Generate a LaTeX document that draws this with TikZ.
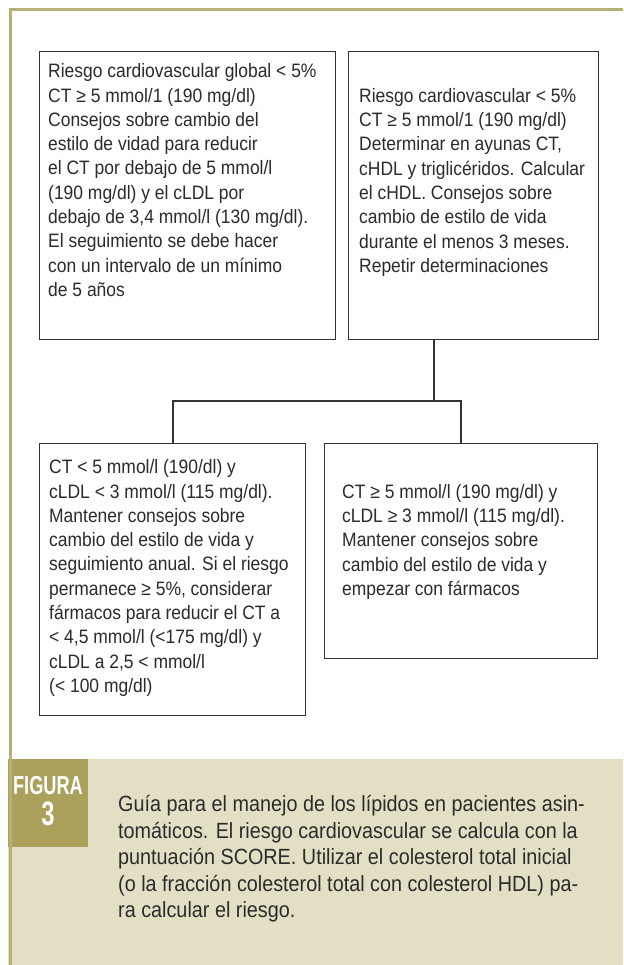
\documentclass[tikz,border=0pt]{standalone}
\usepackage{fontspec}
\setmainfont[FakeStretch=0.9]{Liberation Sans}
\newfontfamily\figfont[FakeStretch=0.7]{Liberation Sans}
\definecolor{framecol}{HTML}{B8AF76}
\definecolor{bandcol}{HTML}{E3DFC5}
\definecolor{figcol}{HTML}{ABA15D}
\definecolor{inkcol}{HTML}{2B2B2B}
\definecolor{linecol}{HTML}{333333}
\tikzset{
  boxshape/.style={draw=linecol, line width=1.3pt, rectangle, inner sep=0pt},
  boxtext/.style={anchor=north west, inner sep=0pt, align=left, text=inkcol,
    font=\fontsize{19.4}{24.3}\selectfont},
  conn/.style={draw=linecol, line width=1.3pt},
  captext/.style={anchor=north west, inner sep=0pt, align=left, text=inkcol,
    font=\fontsize{22}{26.6}\selectfont},
  figtext/.style={anchor=north, inner sep=0pt, text=white}
}
\begin{document}
\begin{tikzpicture}[x=1pt,y=-1pt]
\useasboundingbox (0,0) rectangle (623,965);
\fill[white] (0,0) rectangle (623,965);
% caption band
\fill[bandcol] (8,759) rectangle (623,965);
\fill[figcol] (8,759) rectangle (88,847);
% frame
\draw[framecol, line width=3pt] (10,965) -- (10,10) -- (623,10);
% boxes
\node[boxshape, minimum width=296pt, minimum height=288pt, anchor=north west] (b1) at (39,51) {};
\node[boxshape, minimum width=250pt, minimum height=288pt, anchor=north west] (b2) at (348,51) {};
\node[boxshape, minimum width=266pt, minimum height=272pt, anchor=north west] (b3) at (39,443) {};
\node[boxshape, minimum width=273pt, minimum height=215pt, anchor=north west] (b4) at (324,443) {};
% texts
\node[boxtext] (t1) at (48,63.5) {Riesgo cardiovascular global < 5\%\\
CT ≥ 5 mmol/1 (190 mg/dl)\\
Consejos sobre cambio del\\
estilo de vidad para reducir\\
el CT por debajo de 5 mmol/l\\
(190 mg/dl) y el cLDL por\\
debajo de 3,4 mmol/l (130 mg/dl).\\
El seguimiento se debe hacer\\
con un intervalo de un mínimo\\
de 5 años};
\node[boxtext] (t2) at (359,88) {Riesgo cardiovascular < 5\%\\
CT ≥ 5 mmol/1 (190 mg/dl)\\
Determinar en ayunas CT,\\
cHDL y triglicéridos. Calcular\\
el cHDL. Consejos sobre\\
cambio de estilo de vida\\
durante el menos 3 meses.\\
Repetir determinaciones};
\node[boxtext] (t3) at (49,459.5) {CT < 5 mmol/l (190/dl) y\\
cLDL < 3 mmol/l (115 mg/dl).\\
Mantener consejos sobre\\
cambio del estilo de vida y\\
seguimiento anual. Si el riesgo\\
permanece ≥ 5\%, considerar\\
fármacos para reducir el CT a\\
< 4,5 mmol/l (<175 mg/dl) y\\
cLDL a 2,5 < mmol/l\\
(< 100 mg/dl)};
\node[boxtext] (t4) at (342,484) {CT ≥ 5 mmol/l (190 mg/dl) y\\
cLDL ≥ 3 mmol/l (115 mg/dl).\\
Mantener consejos sobre\\
cambio del estilo de vida y\\
empezar con fármacos};
% connectors
\coordinate (j) at (434,401);
\coordinate (jl) at (173,401);
\coordinate (jr) at (461,401);
\draw[conn] (j |- b2.south) -- (j);
\draw[conn] (jl |- b3.north) -- (jl) -- (jr) -- (jr |- b4.north);
% figure label
\node[figtext, font=\figfont\bfseries\fontsize{26}{27}\selectfont] (fig) at (48,776) {FIGURA};
\node[figtext, font=\figfont\bfseries\fontsize{34}{35}\selectfont] (num) at (48,802) {3};
% caption
\node[captext] (cap) at (118,795) {Guía para el manejo de los lípidos en pacientes asin-\\
tomáticos. El riesgo cardiovascular se calcula con la\\
puntuación SCORE. Utilizar el colesterol total inicial\\
(o la fracción colesterol total con colesterol HDL) pa-\\
ra calcular el riesgo.};
\end{tikzpicture}
\end{document}
